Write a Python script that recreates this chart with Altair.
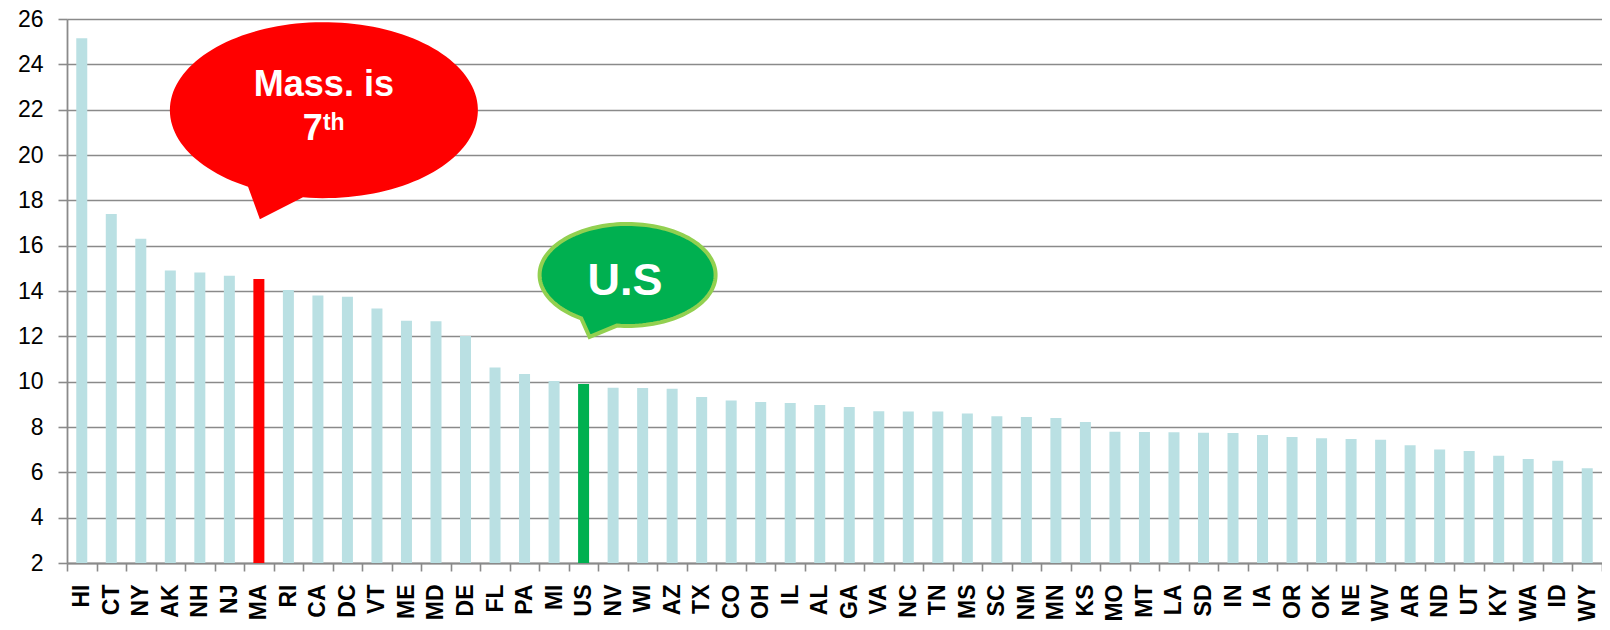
import math
import altair as alt
import pandas as pd

states = ["HI","CT","NY","AK","NH","NJ","MA","RI","CA","DC","VT","ME","MD","DE","FL","PA","MI","US",
          "NV","WI","AZ","TX","CO","OH","IL","AL","GA","VA","NC","TN","MS","SC","NM","MN","KS","MO",
          "MT","LA","SD","IN","IA","OR","OK","NE","WV","AR","ND","UT","KY","WA","ID","WY"]
values = [25.15,17.4,16.3,14.9,14.82,14.67,14.53,14.04,13.8,13.75,13.23,12.69,12.66,12.01,10.63,10.34,
          10.03,9.9,9.73,9.72,9.69,9.32,9.17,9.10,9.06,8.97,8.88,8.70,8.68,8.68,8.60,8.47,8.44,8.40,
          8.22,7.79,7.78,7.77,7.75,7.74,7.65,7.56,7.50,7.47,7.44,7.19,7.01,6.94,6.73,6.59,6.51,6.18]
y_ticks = list(range(2, 27, 2))
y_min, y_max = 2, 26

ma_anchor_state = ["MA"]
ma_anchor_value = [17.17]
us_anchor_state = ["US"]
us_anchor_value = [11.84]

df = pd.DataFrame({"state": states, "value": values})
ma_df = pd.DataFrame({"state": ma_anchor_state, "value": ma_anchor_value})
us_df = pd.DataFrame({"state": us_anchor_state, "value": us_anchor_value})

FONT = "Liberation Sans"


def bubble_path(cx, cy, rx, ry, a_start, a_end, tip, n=140):
    pts = []
    for i in range(n + 1):
        t = math.radians(a_start + (a_end - a_start) * i / n)
        pts.append((cx + rx * math.cos(t), cy + ry * math.sin(t)))
    pts.append(tip)
    s = "M %.2f %.2f" % pts[0]
    for p in pts[1:]:
        s += " L %.2f %.2f" % p
    return s + " Z"


red_path = bubble_path(65, -109, 154, 88, 119.5, 97.8 + 360, (1, 0))
green_path = bubble_path(44, -65, 88, 51, 121.8, 97 + 360, (6, -3))

x_enc = alt.X("state:N", sort=None,
              scale=alt.Scale(domain=states, paddingInner=0, paddingOuter=0),
              axis=alt.Axis(title=None, labelAngle=270, labelFont=FONT, labelFontSize=23,
                            labelFontWeight="bold", labelColor="#000000", labelPadding=13,
                            labelLimit=300,
                            tickBand="extent", tickSize=8, tickColor="#8A8A8A", tickWidth=1.6,
                            domainColor="#8A8A8A", domainWidth=1.8, grid=False))
y_enc = alt.Y("value:Q",
              scale=alt.Scale(domain=[y_min, y_max], nice=False, zero=False),
              axis=alt.Axis(title=None, values=y_ticks, labelFont=FONT, labelFontSize=23,
                            labelColor="#000000", labelPadding=15, tickSize=9,
                            tickColor="#8A8A8A", tickWidth=1.6, domainColor="#8A8A8A",
                            domainWidth=1.8, grid=True, gridColor="#8A8A8A", gridWidth=1.6))

bars = alt.Chart(df).mark_bar(width=11).encode(
    x=x_enc,
    y=y_enc,
    y2=alt.datum(y_min),
    color=alt.when(alt.datum.state == "MA").then(alt.value("#FF0000"))
             .when(alt.datum.state == "US").then(alt.value("#00B050"))
             .otherwise(alt.value("#BAE0E3")),
)

red_bubble = alt.Chart(ma_df).mark_point(
    shape=red_path, size=4, filled=True, fill="#FF0000", opacity=1, fillOpacity=1, strokeWidth=0
).encode(x="state:N", y="value:Q")

red_text1 = alt.Chart(ma_df).mark_text(
    text="Mass. is", font=FONT, fontSize=36, fontWeight="bold", color="#FFFFFF",
    align="center", baseline="alphabetic", dx=65, dy=-123
).encode(x="state:N", y="value:Q")
red_text2 = alt.Chart(ma_df).mark_text(
    text="7", font=FONT, fontSize=36, fontWeight="bold", color="#FFFFFF",
    align="right", baseline="alphabetic", dx=64, dy=-79
).encode(x="state:N", y="value:Q")
red_text3 = alt.Chart(ma_df).mark_text(
    text="th", font=FONT, fontSize=23, fontWeight="bold", color="#FFFFFF",
    align="left", baseline="alphabetic", dx=64, dy=-89
).encode(x="state:N", y="value:Q")

green_bubble = alt.Chart(us_df).mark_point(
    shape=green_path, size=4, filled=True, fill="#00B050", stroke="#92D050",
    strokeWidth=4, opacity=1, fillOpacity=1, strokeOpacity=1
).encode(x="state:N", y="value:Q")
green_text = alt.Chart(us_df).mark_text(
    text="U.S", font=FONT, fontSize=45, fontWeight="bold", color="#FFFFFF",
    align="center", baseline="alphabetic", dx=41.5, dy=-45
).encode(x="state:N", y="value:Q")

chart = alt.layer(bars, red_bubble, red_text1, red_text2, red_text3, green_bubble, green_text).properties(
    width=1535, height=544,
    autosize=alt.AutoSizeParams(type="none"),
    padding={"left": 59, "top": 11, "right": 0, "bottom": 59},
).configure_view(stroke=None).configure(background="#FFFFFF")

chart.save("out.html", embed_options={"renderer": "svg", "actions": False})
